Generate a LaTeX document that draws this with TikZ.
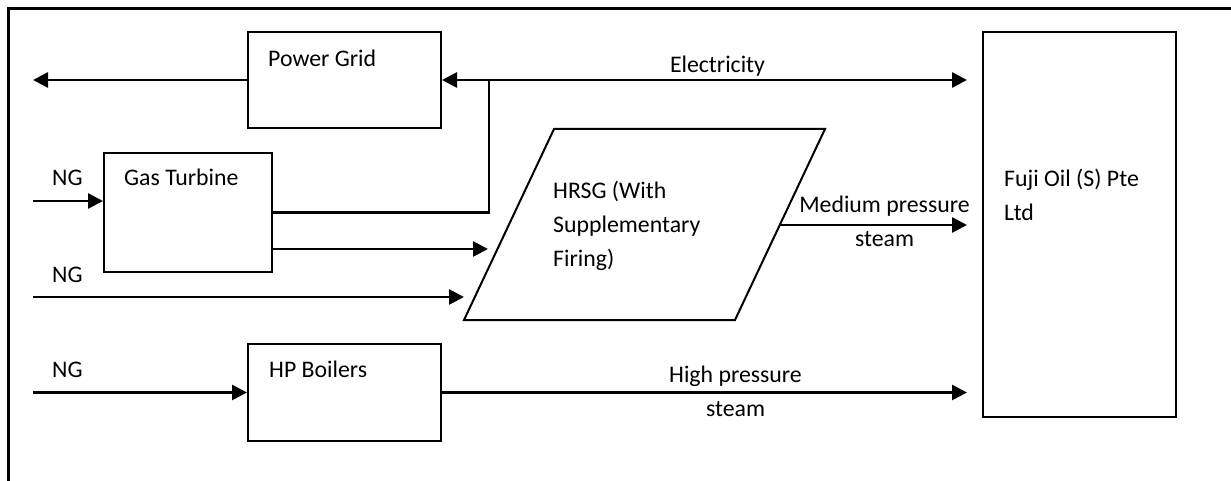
\documentclass[tikz,border=0pt]{standalone}
\usepackage{fontspec}
\setmainfont{Carlito}
\usetikzlibrary{arrows.meta, positioning}

\begin{document}
\begin{tikzpicture}[x=1pt, y=-1pt,
  unitbox/.style={rectangle, draw=black, line width=2pt, fill=white, inner sep=0pt},
  lbl/.style={inner sep=0pt, align=left, font=\fontsize{23.8}{34}\selectfont},
  clbl/.style={inner sep=0pt, align=center, font=\fontsize{23.8}{34}\selectfont},
  arr/.style={-{Triangle[length=15pt, width=15pt]}, line width=2.7pt},
  dbl/.style={{Triangle[length=15pt, width=15pt]}-{Triangle[length=15pt, width=15pt]}, line width=2.7pt},
  ln/.style={line width=2.7pt},
  frame/.style={line width=3pt}
]
  \useasboundingbox (0,0) rectangle (1231,481);
  \draw[frame] (8,481) -- (8,9) -- (1231,9);

  % units
  \node[unitbox, minimum width=193pt, minimum height=96pt]  (pg)   at (344.5, 80)   {};
  \node[unitbox, minimum width=168pt, minimum height=119pt] (gt)   at (188,   212.5) {};
  \node[unitbox, minimum width=193pt, minimum height=97pt]  (hp)   at (344.5, 392.5) {};
  \node[unitbox, minimum width=193pt, minimum height=385pt] (fuji) at (1079.5,224.5) {};

  % HRSG
  \coordinate (hA) at (554,129);
  \coordinate (hB) at (825,129);
  \coordinate (hC) at (735,320);
  \coordinate (hD) at (464,320);
  \draw[line width=2pt] (hA) -- (hB) -- (hC) -- (hD) -- cycle;

  % base = last line
  \node[lbl, anchor=base west] (pgt)   at (268, 66.5)  {Power Grid};
  \node[lbl, anchor=base west] (gtt)   at (124, 185.5) {Gas Turbine};
  \node[lbl, anchor=base west] (hpt)   at (269, 377)   {HP Boilers};
  \node[lbl, anchor=base west] (hrsg)  at (553, 266)   {HRSG (With\\Supplementary\\Firing)};
  \node[lbl, anchor=base west] (fujit) at (1004,221)   {Fuji Oil (S) Pte\\Ltd};

  % free ends
  \coordinate (gout) at (33, 80);
  \coordinate (jn)   at (489, 80);
  \coordinate (ng1)  at (33, 201);
  \coordinate (ng2)  at (33, 297);
  \coordinate (ng3)  at (33, 392.5);
  \coordinate (hin1) at (488, 249);
  \coordinate (hin2) at (464, 297);
  \coordinate (hout) at (779.8, 225);

  \draw[arr] (pg.west) -- (gout);
  \draw[dbl, shorten >=15pt] (pg.east) -- (pg.east -| fuji.west);
  \draw[ln]  (gt.east) -| (jn);
  \draw[arr] (gt.east |- hin1) -- (hin1);
  \draw[arr] (ng1) -- (gt.west |- ng1);
  \draw[arr] (ng2) -- (hin2);
  \draw[arr] (ng3) -- (hp.west);
  \draw[arr, shorten >=15pt] (hout) -- (hout -| fuji.west);
  \draw[arr, shorten >=15pt] (hp.east) -- (hp.east -| fuji.west);

  \node[lbl, anchor=base west] (ng1t) at (52, 185.5) {NG};
  \node[lbl, anchor=base west] (ng2t) at (52, 282)   {NG};
  \node[lbl, anchor=base west] (ng3t) at (52, 377)   {NG};
  \node[clbl, anchor=base] (elt) at (717.5, 73)  {Electricity};
  \node[clbl, anchor=base] (mps) at (884.5, 246.5) {Medium pressure\\steam};
  \node[clbl, anchor=base] (hps) at (735.5, 416) {High pressure\\steam};
\end{tikzpicture}
\end{document}
